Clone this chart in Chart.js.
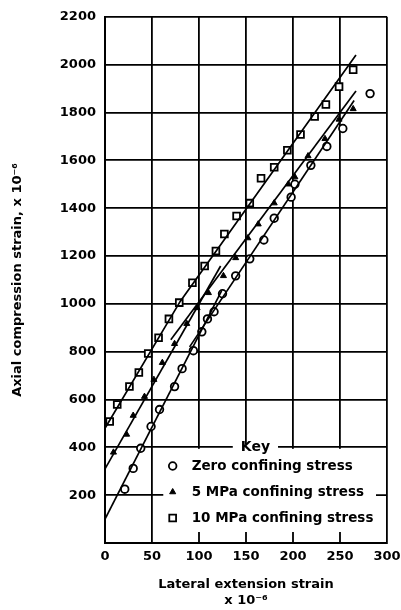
<!DOCTYPE html>
<html>
<head>
<meta charset="utf-8">
<script src="https://cdn.jsdelivr.net/npm/chart.js@4.4.0/dist/chart.umd.min.js"></script>
<style>
html, body { margin: 0; padding: 0; background: #fff; }
</style>
</head>
<body>
<canvas id="myChart" width="401" height="610"></canvas>
<script>
// values (strain x 10^-6)
var zeroX = [21, 30, 38, 49, 58, 74, 82, 94, 103, 109, 116, 125, 139, 154, 169, 180, 198, 202, 219, 236, 253, 282];
var zeroY = [225, 312, 396, 487, 558, 654, 729, 804, 883, 937, 967, 1042, 1117, 1188, 1267, 1358, 1446, 1500, 1579, 1658, 1733, 1879];

var fiveX = [9, 23, 30, 42, 52, 61, 74, 87, 98, 110, 126, 139, 152, 163, 180, 195, 202, 216, 234, 249, 264];
var fiveY = [379, 454, 533, 612, 683, 754, 833, 917, 983, 1046, 1117, 1192, 1275, 1333, 1421, 1500, 1530, 1618, 1690, 1771, 1815];

var tenX = [5, 13, 26, 36, 46, 57, 68, 79, 93, 106, 118, 127, 140, 154, 166, 180, 194, 208, 223, 235, 249, 264];
var tenY = [508, 579, 654, 713, 792, 858, 937, 1005, 1088, 1158, 1221, 1292, 1367, 1421, 1525, 1571, 1642, 1708, 1783, 1833, 1908, 1979];

// hand drawn fit lines (end points)
var zeroLowX = [0, 124], zeroLowY = [100, 1054];
var zeroHighX = [90, 265], zeroHighY = [820, 1850];
var fiveLowX = [0, 123], fiveLowY = [310, 1158];
var fiveHighX = [70, 267], fiveHighY = [850, 1890];
var tenLineX = [0, 80, 267], tenLineY = [480, 1010, 2040];

var seriesNames = ["Zero confining stress", "5 MPa confining stress", "10 MPa confining stress"];
var xTicks = [0, 50, 100, 150, 200, 250, 300];
var yTicks = [200, 400, 600, 800, 1000, 1200, 1400, 1600, 1800, 2000, 2200];

var FONT = "'DejaVu Sans', sans-serif";

function pts(xs, ys) {
    var out = [];
    for (var i = 0; i < xs.length; i++) {
        out.push({ x: xs[i], y: ys[i] });
    }
    return out;
}

function fitLine(xs, ys) {
    return {
        data: pts(xs, ys),
        showLine: true,
        borderColor: '#000',
        borderWidth: 1.7,
        pointRadius: 0,
        pointHoverRadius: 0,
        fill: false,
        inKey: false
    };
}

// white box for the key, with the "Key" title on the 400 grid line
var keyBox = {
    id: 'keyBox',
    beforeDatasetsDraw: function (chart) {
        var ctx = chart.ctx;
        var xs = chart.scales.x, ys = chart.scales.y, area = chart.chartArea;
        var top = ys.getPixelForValue(400) + 1.5;
        var left = xs.getPixelForValue(62);
        ctx.save();
        ctx.fillStyle = '#fff';
        ctx.fillRect(left, top, area.right - 1 - left, area.bottom - 1 - top);

        // short tick stubs along the bottom and right
        ctx.strokeStyle = '#000';
        ctx.lineWidth = 1.8;
        ctx.beginPath();
        [100, 150, 200, 250].forEach(function (v) {
            var px = xs.getPixelForValue(v);
            ctx.moveTo(px, area.bottom);
            ctx.lineTo(px, area.bottom - 11);
        });
        var py = ys.getPixelForValue(200);
        ctx.moveTo(area.right - 11, py);
        ctx.lineTo(area.right, py);
        ctx.stroke();

        // "Key" label breaking the top line
        var cx = xs.getPixelForValue(160);
        var ky = ys.getPixelForValue(400);
        ctx.font = "bold 14px " + FONT;
        var w = ctx.measureText('Key').width;
        ctx.fillRect(cx - w / 2 - 8, ky - 3, w + 16, 6);
        ctx.fillStyle = '#000';
        ctx.textAlign = 'center';
        ctx.textBaseline = 'middle';
        ctx.fillText('Key', cx, ky);
        ctx.restore();
    },
    afterDatasetsDraw: function (chart) {
        var ctx = chart.ctx;
        var xs = chart.scales.x;
        var mx = xs.getPixelForValue(72);
        var tx = mx + 19;
        var rowY = [466, 492, 518];
        var k = 0;
        ctx.save();
        chart.data.datasets.forEach(function (ds) {
            if (!ds.inKey) return;
            var y = rowY[k++];
            ctx.fillStyle = ds.backgroundColor;
            ctx.strokeStyle = ds.borderColor;
            ctx.lineWidth = ds.borderWidth;
            Chart.helpers.drawPoint(ctx, {
                pointStyle: ds.pointStyle,
                radius: ds.pointRadius,
                borderWidth: ds.borderWidth,
                rotation: 0
            }, mx, y);
            ctx.fillStyle = '#000';
            ctx.font = "bold 13.5px " + FONT;
            ctx.textAlign = 'left';
            ctx.textBaseline = 'middle';
            ctx.fillText(ds.label, tx, y);
        });
        ctx.restore();
    }
};

var ctx = document.getElementById('myChart').getContext('2d');
var myChart = new Chart(ctx, {
    type: 'scatter',
    data: {
        datasets: [
            fitLine(zeroLowX, zeroLowY),
            fitLine(zeroHighX, zeroHighY),
            fitLine(fiveLowX, fiveLowY),
            fitLine(fiveHighX, fiveHighY),
            fitLine(tenLineX, tenLineY),
            {
                label: seriesNames[0],
                data: pts(zeroX, zeroY),
                pointStyle: 'circle',
                pointRadius: 3.8,
                borderWidth: 1.8,
                borderColor: '#000',
                backgroundColor: '#fff',
                inKey: true
            },
            {
                label: seriesNames[1],
                data: pts(fiveX, fiveY),
                pointStyle: 'triangle',
                pointRadius: 3.5,
                borderWidth: 1,
                borderColor: '#000',
                backgroundColor: '#000',
                inKey: true
            },
            {
                label: seriesNames[2],
                data: pts(tenX, tenY),
                pointStyle: 'rect',
                pointRadius: 4.8,
                borderWidth: 1.8,
                borderColor: '#000',
                backgroundColor: '#fff',
                inKey: true
            }
        ]
    },
    options: {
        responsive: false,
        animation: false,
        events: [],
        layout: { padding: { left: 0, right: 14, top: 15, bottom: 0 } },
        plugins: {
            legend: { display: false },
            tooltip: { enabled: false }
        },
        scales: {
            x: {
                type: 'linear',
                min: 0,
                max: 300,
                afterFit: function (scale) {
                    scale.height = 67;
                    scale.paddingLeft = 0;
                    scale.paddingRight = 0;
                },
                afterBuildTicks: function (scale) {
                    scale.ticks = xTicks.map(function (v) { return { value: v }; });
                },
                grid: { color: '#000', lineWidth: 1.8, drawTicks: false },
                border: { color: '#000', width: 2 },
                ticks: {
                    color: '#000',
                    padding: 6,
                    maxRotation: 0,
                    font: { family: FONT, size: 13, weight: 'bold' }
                },
                title: {
                    display: true,
                    text: ['Lateral extension strain', 'x 10\u207B\u2076'],
                    color: '#000',
                    font: { family: FONT, size: 13, weight: 'bold' },
                    padding: { top: 4, bottom: 2 }
                }
            },
            y: {
                type: 'linear',
                min: 0,
                max: 2200,
                afterFit: function (scale) { scale.width = 105; },
                afterBuildTicks: function (scale) {
                    scale.ticks = [{ value: 0 }].concat(yTicks.map(function (v) { return { value: v }; }));
                },
                grid: { color: '#000', lineWidth: 1.8, drawTicks: false },
                border: { color: '#000', width: 2 },
                ticks: {
                    color: '#000',
                    padding: 9,
                    font: { family: FONT, size: 13, weight: 'bold' },
                    callback: function (v) { return v === 0 ? '' : v; }
                },
                title: {
                    display: true,
                    text: 'Axial compression strain, x 10\u207B\u2076',
                    color: '#000',
                    font: { family: FONT, size: 13, weight: 'bold' },
                    padding: { top: 10, bottom: 4 }
                }
            }
        }
    },
    plugins: [keyBox]
});
</script>
</body>
</html>
